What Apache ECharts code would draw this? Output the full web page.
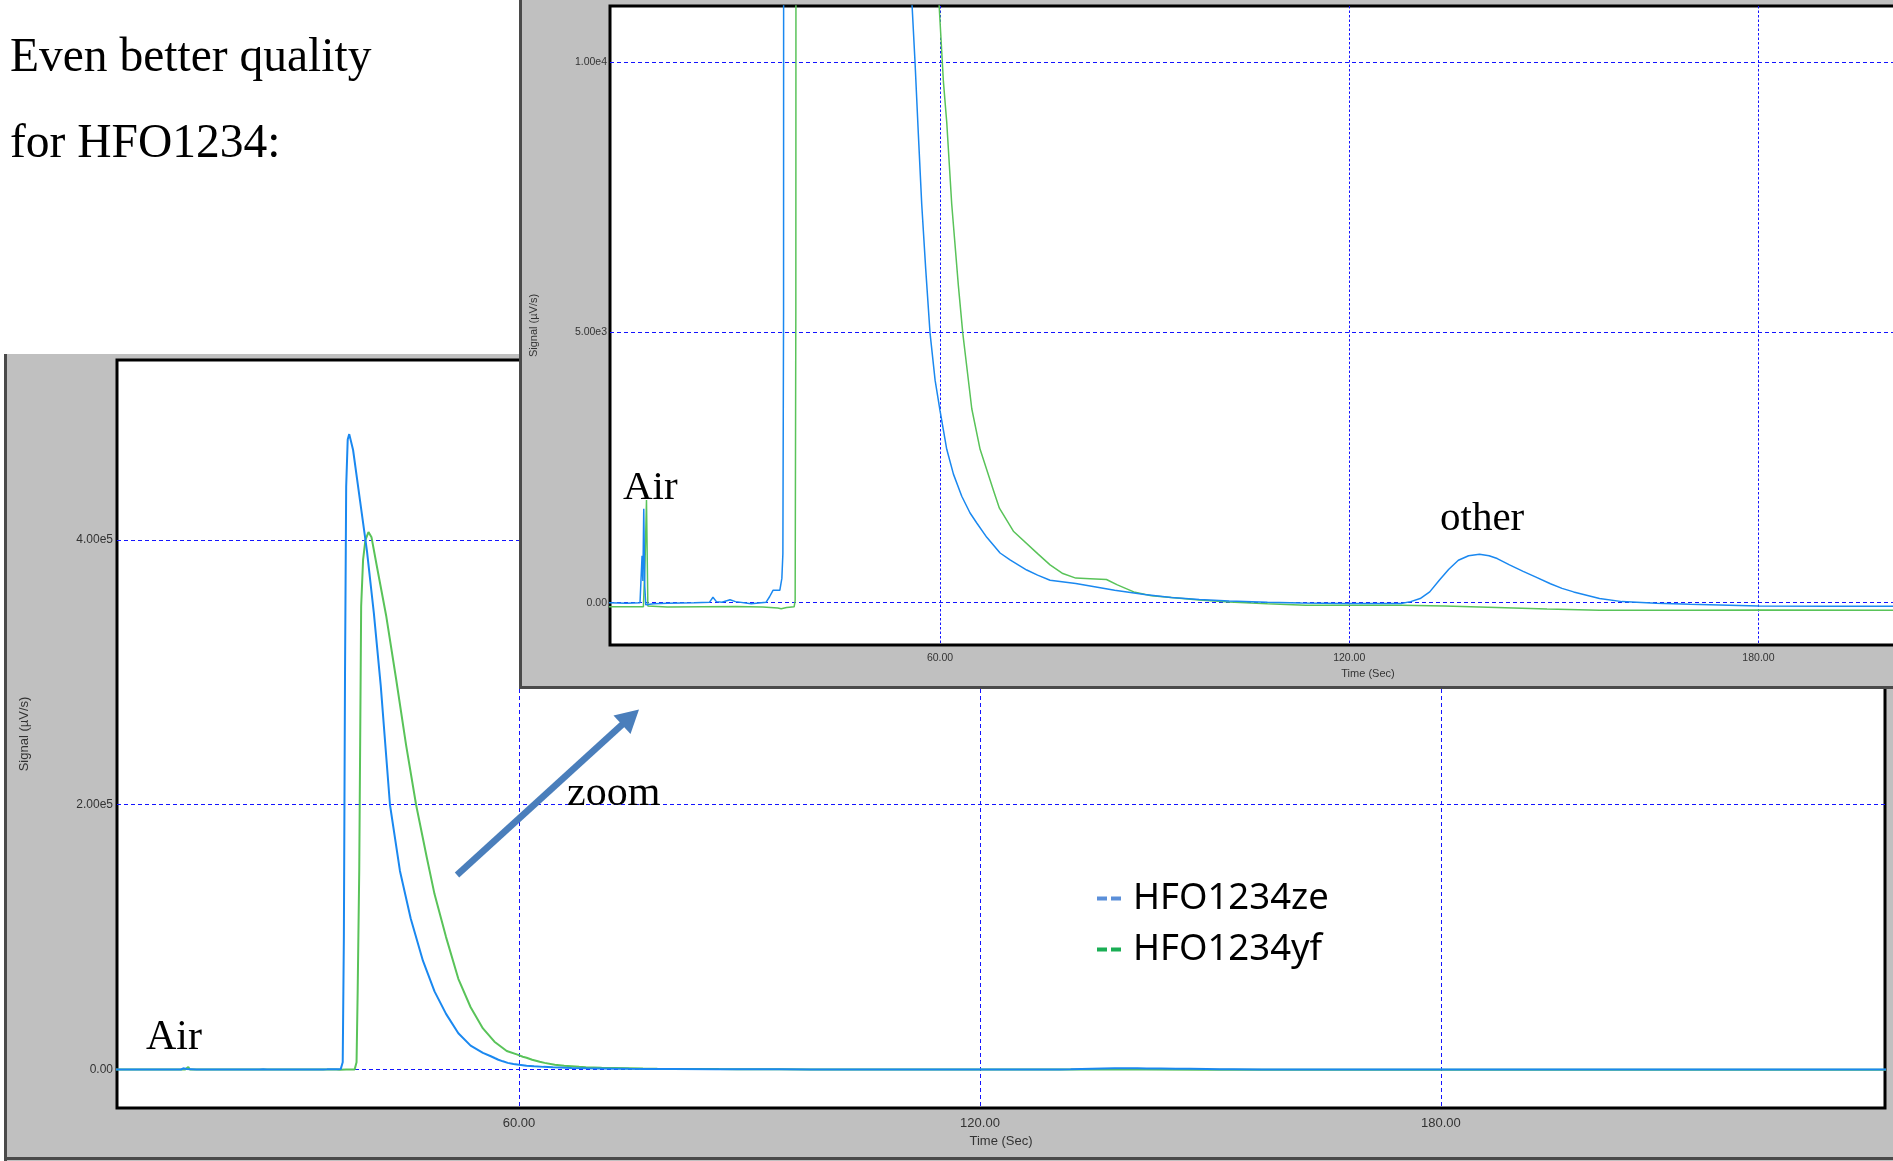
<!DOCTYPE html>
<html><head><meta charset="utf-8">
<script src="https://cdn.jsdelivr.net/npm/echarts@6/dist/echarts.min.js"></script>
<style>
html,body{margin:0;padding:0;width:1893px;height:1161px;overflow:hidden;background:#fff;}
#main{position:absolute;left:0;top:0;width:1893px;height:1161px;}
#inset{position:absolute;left:519px;top:0;width:1700px;height:689px;}
</style></head><body>
<div id="main"></div><div id="inset"></div>
<script>
// ---- data ----
const seriesNames = ['HFO1234ze', 'HFO1234yf'];
const zeTime = [7.5,11.5,14,16.0,16.3,16.42,16.55,16.7,16.85,18,20,24,26.2,26.7,27.2,28,29.2,30,32.3,34.5,35.0,35.5,36.5,36.8,36.95,37.05,37.2,37.35,37.5,37.7,37.9,38.4,39.3,40.2,41.1,42.0,43.2,44.5,45.9,47.5,49.0,50.5,52.1,53.7,55.3,56.33,56.82,57.31,57.9,58.53,59.27,60.0,60.98,61.96,63.18,64.4,65.38,66.85,68.8,70.26,72.71,74.3,76.13,79.9,85.6,90,93.9,98,102.4,108,113,119.2,124,127.6,129.0,130.4,131.8,133.2,134.6,136.0,137.5,139.1,140.5,141.7,143.5,145.5,147.3,149.5,151.2,152.9,156.7,160,165,170,180,190,199,210,225,238];
const zeSignal = [0,0,-10,0,870,400,1740,300,-40,-20,-10,0,10,100,20,10,55,20,-20,10,110,230,230,450,900,5400,100000,300000,440000,476000,480000,468000,430000,392000,345000,290000,200000,150000,114000,82000,59000,42000,27400,18000,12500,10000,8660,7375,6165,4990,4120,3550,2840,2380,1970,1660,1475,1210,920,794,605,510,416,355,230,150,96,60,33,10,-5,-15,-15,-15,20,77,200,416,620,786,870,896,870,817,700,580,477,350,265,200,77,20,-10,-30,-60,-65,-65,-60,-60,-60];
const yfTime = [7.5,11.5,16.5,16.75,16.95,17.15,17.4,20,25,30,34,36.2,36.7,37.5,38.6,38.75,38.85,39.0,39.2,39.45,39.7,40.0,40.4,40.8,41.5,42.7,44.0,45.3,46.6,48.0,49.0,50.5,52.1,53.7,55.3,56.8,58.4,59.8,60.49,60.98,61.71,62.69,63.33,64.65,65.87,67.82,68.7,70.75,74.3,76.13,78,79.9,82,84.4,86,88.4,91,93.9,98,102.4,108,113.6,120,127.6,134,141.6,149,156.7,170,180,199,238];
const yfSignal = [-76,-76,-76,800,1900,-60,-90,-80,-76,-70,-80,-100,-113,-90,-76,40,5400,60000,150000,350000,385000,400000,406000,402000,380000,343000,295000,245000,200000,160000,132500,100000,68500,47000,31000,21000,14000,11200,9645,8890,7375,5860,4990,3590,2840,2080,1750,1324,909,700,540,455,445,430,330,200,130,96,50,15,-20,-46,-46,-46,-60,-89,-115,-139,-140,-133,-140,-140];
const mainXTicks = [60, 120, 180];
const mainYTicks = [0, 200000, 400000];
const insetXTicks = [60, 120, 180];
const insetYTicks = [0, 5000, 10000];
const xAxisTitle = 'Time (Sec)';
const yAxisTitle = 'Signal (µV/s)';

// ---- styles ----
const BLUE = '#1a88f0', GREEN = '#59c359', GRIDC = '#1414ff';
const AX_FONT = '"Liberation Sans", Arial, sans-serif';
const SERIF = '"Liberation Serif", "Times New Roman", serif';
const fmtY = v => v === 0 ? '0.00' : v.toExponential(2).replace('e+', 'e');
const fmtX = v => v.toFixed(2);
const pairs = (t, v) => t.map((x, i) => [x, v[i]]);

function buildOption(cfg) {
  return {
    animation: false,
    grid: {left: cfg.grid[0], top: cfg.grid[1], width: cfg.grid[2], height: cfg.grid[3],
      show: true, backgroundColor: '#fff', borderColor: '#000', borderWidth: 3},
    xAxis: {type: 'value', min: cfg.xr[0], max: cfg.xr[1],
      name: xAxisTitle, nameLocation: 'middle', nameGap: cfg.xNameGap,
      nameTextStyle: {fontFamily: AX_FONT, fontSize: cfg.nameSize, color: '#333'},
      axisLine: {show: false}, axisTick: {show: false, customValues: cfg.xTicks},
      axisLabel: {customValues: cfg.xTicks, formatter: fmtX, margin: cfg.xLabelMargin,
        fontFamily: AX_FONT, fontSize: cfg.xLabelSize, color: '#333'},
      splitLine: {show: true, lineStyle: {color: GRIDC, width: 1, type: cfg.vDash}}},
    yAxis: {type: 'value', min: cfg.yr[0], max: cfg.yr[1],
      name: yAxisTitle, nameLocation: 'middle', nameGap: cfg.yNameGap,
      nameTextStyle: {fontFamily: AX_FONT, fontSize: cfg.nameSize, color: '#333'},
      axisLine: {show: false}, axisTick: {show: false, customValues: cfg.yTicks},
      axisLabel: {customValues: cfg.yTicks, formatter: fmtY, margin: cfg.yLabelMargin,
        fontFamily: AX_FONT, fontSize: cfg.yLabelSize, color: '#333'},
      splitLine: {show: true, lineStyle: {color: GRIDC, width: 1, type: [4, 3]}}},
    series: [
      {name: seriesNames[1], type: 'line', data: pairs(yfTime, yfSignal), showSymbol: false, symbol: 'none',
        lineStyle: {color: GREEN, width: cfg.lw}, itemStyle: {color: GREEN}, clip: true, z: 2},
      {name: seriesNames[0], type: 'line', data: pairs(zeTime, zeSignal), showSymbol: false, symbol: 'none',
        lineStyle: {color: BLUE, width: cfg.lw}, itemStyle: {color: BLUE}, clip: true, z: 3}
    ]
  };
}

// ---- main chart ----
const mainOpt = buildOption({
  grid: [117, 360, 1768, 748], xr: [7.67, 237.8], yr: [-29100, 536000],
  xTicks: mainXTicks, yTicks: mainYTicks, xNameGap: 26, yNameGap: 86,
  nameSize: 13, xLabelSize: 13, yLabelSize: 12, xLabelMargin: 9, yLabelMargin: 4,
  vDash: [4, 3], lw: 2
});
mainOpt.legend = {
  data: [{name: seriesNames[0], itemStyle: {color: '#5b8fd9'}}, {name: seriesNames[1], itemStyle: {color: '#1aae55'}}],
  orient: 'vertical', left: 1097, top: 873, padding: 0, itemGap: 0,
  itemWidth: 24, itemHeight: 4, icon: 'path://M0,0H10V4H0ZM14,0H24V4H14Z', selectedMode: false,
  textStyle: {fontFamily: '"Noto Sans", sans-serif', fontSize: 36.5, color: '#000', lineHeight: 40, padding: [11, 0, 0, 7]}
};
mainOpt.graphic = [
  {type: 'rect', z: -10, shape: {x: 6, y: 354, width: 1900, height: 810}, style: {fill: '#c0c0c0'}},
  {type: 'rect', z: -9, shape: {x: 4, y: 354, width: 3, height: 807}, style: {fill: '#4a4a4a'}},
  {type: 'rect', z: -9, shape: {x: 4, y: 1157, width: 1900, height: 3}, style: {fill: '#4a4a4a'}},
  {type: 'text', z: 50, x: 10, y: 59, style: {text: 'Even better quality', font: '47.5px ' + SERIF, fill: '#000', verticalAlign: 'middle'}},
  {type: 'text', z: 50, x: 10, y: 145, style: {text: 'for HFO1234:', font: '47.5px ' + SERIF, fill: '#000', verticalAlign: 'middle'}},
  {type: 'text', z: 50, x: 146, y: 1038, style: {text: 'Air', font: '42px ' + SERIF, fill: '#000', verticalAlign: 'middle'}},
  {type: 'text', z: 50, x: 567, y: 794, style: {text: 'zoom', font: '42px ' + SERIF, fill: '#000', verticalAlign: 'middle'}},
  {type: 'line', z: 50, shape: {x1: 457, y1: 875, x2: 625, y2: 722}, style: {stroke: '#4a7ebb', lineWidth: 6.5}},
  {type: 'polygon', z: 50, shape: {points: [[639, 709.5], [613.5, 715.5], [630.5, 734]]}, style: {fill: '#4a7ebb'}}
];
echarts.init(document.getElementById('main'), null, {renderer: 'canvas'}).setOption(mainOpt);

// ---- inset (zoomed) chart ----
const insetOpt = buildOption({
  grid: [91, 6, 1516, 639], xr: [11.6, 233.9], yr: [-783, 11046],
  xTicks: insetXTicks, yTicks: insetYTicks, xNameGap: 22, yNameGap: 71,
  nameSize: 11, xLabelSize: 10.5, yLabelSize: 10.5, xLabelMargin: 8, yLabelMargin: 3,
  vDash: [2.5, 2], lw: 1.5
});
insetOpt.backgroundColor = '#c0c0c0';
insetOpt.graphic = [
  {type: 'rect', z: 40, shape: {x: 0, y: 0, width: 3, height: 689}, style: {fill: '#4a4a4a'}},
  {type: 'rect', z: 40, shape: {x: 0, y: 686, width: 1700, height: 3}, style: {fill: '#4a4a4a'}},
  {type: 'text', z: 50, x: 104, y: 488, style: {text: 'Air', font: '41px ' + SERIF, fill: '#000', verticalAlign: 'middle'}},
  {type: 'text', z: 50, x: 921, y: 519.5, style: {text: 'other', font: '41px ' + SERIF, fill: '#000', verticalAlign: 'middle'}}
];
echarts.init(document.getElementById('inset'), null, {renderer: 'canvas'}).setOption(insetOpt);
</script>
</body></html>
